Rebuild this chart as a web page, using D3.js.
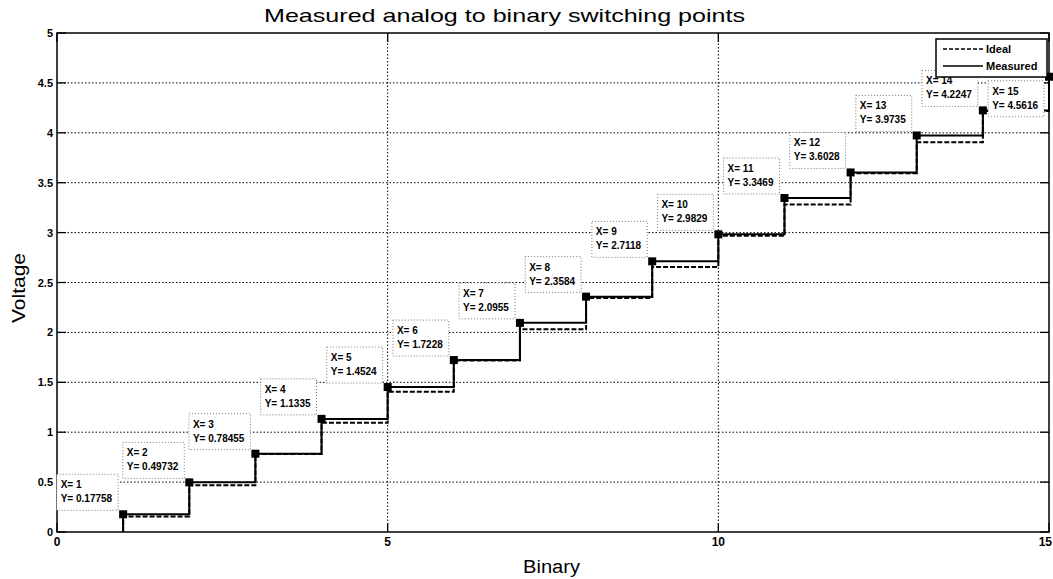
<!DOCTYPE html>
<html lang="en">
<head>
<meta charset="UTF-8">
<title>Measured analog to binary switching points</title>
<script src="https://d3js.org/d3.v7.min.js"></script>
<style>
    body { margin: 0; background: #fff; }
    svg { display: block; font-family: "Liberation Sans", Arial, sans-serif; }
    .grid line { stroke: #000; stroke-width: 1; stroke-dasharray: 1.5,2; }
    .tick-label { font-size: 11px; font-weight: bold; fill: #000; }
    .tip text { font-size: 10px; font-weight: bold; fill: #000; }
</style>
</head>
<body>
<script>
    // switching points
    const codes = [1, 2, 3, 4, 5, 6, 7, 8, 9, 10, 11, 12, 13, 14, 15];
    const measured = [0.17758, 0.49732, 0.78455, 1.1335, 1.4524, 1.7228, 2.0955, 2.3584,
                      2.7118, 2.9829, 3.3469, 3.6028, 3.9735, 4.2247, 4.5616];
    const ideal = [0.156, 0.469, 0.781, 1.094, 1.406, 1.719, 2.031, 2.344,
                   2.656, 2.969, 3.281, 3.594, 3.906, 4.219, 4.531];
    const xTicks = [0, 5, 10, 15];
    const yTicks = [0, 0.5, 1, 1.5, 2, 2.5, 3, 3.5, 4, 4.5, 5];
    const legendNames = ["Ideal", "Measured"];

    const width = 1053, height = 579;
    const plotL = 57, plotR = 1049, plotT = 33, plotB = 532;

    const x = d3.scaleLinear().domain([0, 15]).range([plotL, plotR]);
    const y = d3.scaleLinear().domain([0, 5]).range([plotB, plotT]);

    const svg = d3.select("body").append("svg")
        .attr("width", width)
        .attr("height", height);

    svg.append("rect").attr("width", width).attr("height", height).attr("fill", "#fff");

    // dotted grid
    const grid = svg.append("g").attr("class", "grid");
    grid.selectAll(".gy").data(yTicks.filter(d => d > 0 && d < 5)).enter().append("line")
        .attr("x1", plotL).attr("x2", plotR)
        .attr("y1", d => y(d)).attr("y2", d => y(d));
    grid.selectAll(".gx").data(xTicks.filter(d => d > 0 && d < 15)).enter().append("line")
        .attr("y1", plotT).attr("y2", plotB)
        .attr("x1", d => x(d)).attr("x2", d => x(d));

    // stairs
    const stairs = d3.line()
        .x(d => x(d[0]))
        .y(d => y(d[1]))
        .curve(d3.curveStepAfter);

    const idealPts = [[1, 0]].concat(codes.map((c, i) => [c, ideal[i]]));
    const measPts = [[1, 0]].concat(codes.map((c, i) => [c, measured[i]]));

    svg.append("path")
        .attr("d", stairs(idealPts))
        .attr("fill", "none")
        .attr("stroke", "#000")
        .attr("stroke-width", 2)
        .attr("stroke-dasharray", "5,2");

    svg.append("path")
        .attr("d", stairs(measPts))
        .attr("fill", "none")
        .attr("stroke", "#000")
        .attr("stroke-width", 2);

    // axes box with ticks on all four sides
    const axes = svg.append("g");
    axes.append("rect")
        .attr("x", plotL).attr("y", plotT)
        .attr("width", plotR - plotL).attr("height", plotB - plotT)
        .attr("fill", "none").attr("stroke", "#000").attr("stroke-width", 1.5);

    const tl = 9;
    yTicks.forEach(v => {
        axes.append("line").attr("x1", plotL).attr("x2", plotL + tl)
            .attr("y1", y(v)).attr("y2", y(v)).attr("stroke", "#000").attr("stroke-width", 1.3);
        axes.append("line").attr("x1", plotR).attr("x2", plotR - tl)
            .attr("y1", y(v)).attr("y2", y(v)).attr("stroke", "#000").attr("stroke-width", 1.3);
    });
    xTicks.forEach(v => {
        axes.append("line").attr("y1", plotB).attr("y2", plotB - tl)
            .attr("x1", x(v)).attr("x2", x(v)).attr("stroke", "#000").attr("stroke-width", 1.3);
        axes.append("line").attr("y1", plotT).attr("y2", plotT + tl)
            .attr("x1", x(v)).attr("x2", x(v)).attr("stroke", "#000").attr("stroke-width", 1.3);
    });

    svg.selectAll(".ylab").data(yTicks).enter().append("text")
        .attr("class", "tick-label")
        .attr("x", plotL - 4)
        .attr("y", d => y(d) + 4)
        .attr("text-anchor", "end")
        .text(d => d);

    // last label would fall off the right edge, so pin it to the edge
    svg.selectAll(".xlab").data(xTicks).enter().append("text")
        .attr("class", "tick-label")
        .style("font-size", "12px")
        .attr("x", d => d === 15 ? width - 1 : x(d))
        .attr("y", plotB + 14)
        .attr("text-anchor", d => d === 15 ? "end" : "middle")
        .text(d => d);

    // titles
    svg.append("text")
        .attr("x", 264).attr("y", 22)
        .attr("textLength", 481).attr("lengthAdjust", "spacingAndGlyphs")
        .style("font-size", "19px")
        .text("Measured analog to binary switching points");

    svg.append("text")
        .attr("x", 523).attr("y", 573)
        .attr("textLength", 57).attr("lengthAdjust", "spacingAndGlyphs")
        .style("font-size", "18px")
        .text("Binary");

    svg.append("text")
        .attr("transform", "translate(25,323) rotate(-90)")
        .attr("textLength", 70).attr("lengthAdjust", "spacingAndGlyphs")
        .style("font-size", "19px")
        .text("Voltage");

    // data tips
    const tips = svg.append("g").attr("class", "tip");
    codes.forEach((c, i) => {
        const px = x(c), py = y(measured[i]);
        const g = tips.append("g");
        const t1 = g.append("text").text("X= " + c);
        const t2 = g.append("text").text("Y= " + measured[i]);
        const w = Math.max(t1.node().getComputedTextLength(), t2.node().getComputedTextLength()) + 10;
        const h = 36;
        const bx = px - 5 - w;
        const by = c === 15 ? py + 4 : py - 4 - h;
        g.insert("rect", "text")
            .attr("x", bx).attr("y", by).attr("width", w).attr("height", h)
            .attr("fill", "#fff").attr("stroke", "#777").attr("stroke-width", 1)
            .attr("stroke-dasharray", "1,2");
        t1.attr("x", bx + 4).attr("y", by + 14);
        t2.attr("x", bx + 4).attr("y", by + 28);
        g.append("rect")
            .attr("x", px - 4).attr("y", py - 4).attr("width", 8).attr("height", 8)
            .attr("fill", "#000");
    });

    // legend
    const lg = svg.append("g");
    lg.append("rect")
        .attr("x", 936).attr("y", 39).attr("width", 111).attr("height", 38)
        .attr("fill", "#fff").attr("stroke", "#000").attr("stroke-width", 1.5);
    legendNames.forEach((name, i) => {
        const ly = 49 + i * 17;
        lg.append("line")
            .attr("x1", 943).attr("x2", 983).attr("y1", ly).attr("y2", ly)
            .attr("stroke", "#000").attr("stroke-width", 1.5)
            .attr("stroke-dasharray", i === 0 ? "4,2" : null);
        lg.append("text")
            .attr("x", 986).attr("y", ly + 4)
            .style("font-size", "11px").style("font-weight", "bold")
            .text(name);
    });
</script>
</body>
</html>
